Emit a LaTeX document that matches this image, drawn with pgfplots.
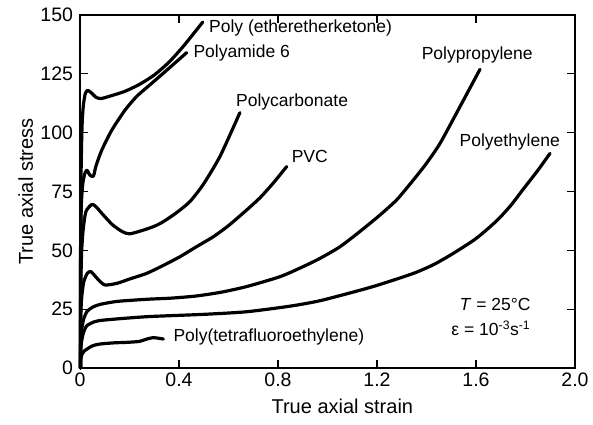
\documentclass[border=0pt]{standalone}
\usepackage{pgfplots}
\pgfplotsset{compat=1.18}
\usepackage{fontspec}
\setmainfont{Liberation Sans}
\begin{document}
\begin{tikzpicture}
\begin{axis}[
  scale only axis, width=495bp, height=353bp,
  xmin=0, xmax=2, ymin=0, ymax=150,
  xtick={0,0.4,0.8,1.2,1.6,2.0},
  xticklabels={0,0.4,0.8,1.2,1.6,2.0},
  ytick={0,25,50,75,100,125,150},
  tick align=inside, major tick length=8bp,
  axis line style={line width=1.2bp, black},
  every tick/.style={line width=1.2bp, black},
  /pgf/number format/assume math mode=true,
  ticklabel style={font=\fontsize{19.5bp}{22bp}\selectfont},
  yticklabel style={xshift=-3.5bp},
  xticklabel style={yshift=-1.5bp},
  xlabel={True axial strain},
  ylabel={True axial stress},
  xlabel style={font=\fontsize{20bp}{22bp}\selectfont, at={(axis description cs:0.53,-0.0776)}, anchor=north},
  ylabel style={font=\fontsize{20bp}{22bp}\selectfont, at={(axis description cs:-0.0877,0.5)}, anchor=south},
  clip=false,
  no markers,
  cycle list={{black}},
  every axis plot post/.append style={black, line width=3.2bp, line join=round, line cap=round, smooth, tension=0.4, mark=none},
]
% Poly(etheretherketone)
\addplot coordinates {(0.002,0) (0.002,40) (0.004,80) (0.008,102) (0.013,111) (0.021,116.5) (0.031,118) (0.045,117) (0.065,115) (0.085,114.5) (0.12,115.5) (0.18,117.5) (0.24,120.5) (0.30,124.5) (0.36,130) (0.42,137) (0.496,147)};
% Polyamide 6
\addplot coordinates {(0.002,0) (0.002,40) (0.005,68) (0.011,78) (0.019,82.5) (0.028,84) (0.04,82) (0.054,81.5) (0.065,86) (0.088,92.6) (0.128,101) (0.182,109.6) (0.23,115.5) (0.29,121) (0.35,126.5) (0.431,134)};
% Polycarbonate
\addplot coordinates {(0.002,0) (0.002,25) (0.006,48) (0.013,59) (0.024,66.5) (0.048,69.5) (0.065,68.5) (0.09,65.5) (0.13,61) (0.17,58) (0.2,57) (0.25,58.4) (0.30,60.2) (0.337,62.2) (0.39,66) (0.444,70.7) (0.498,78) (0.566,90) (0.646,108.5)};
% PVC
\addplot coordinates {(0.002,0) (0.002,18) (0.006,29) (0.015,36.5) (0.03,40.3) (0.045,40.9) (0.07,38) (0.1,35.3) (0.15,36) (0.2,37.8) (0.269,40.2) (0.335,43.5) (0.404,47.3) (0.47,51.5) (0.539,55.8) (0.60,60.5) (0.673,67.1) (0.727,72.3) (0.781,78.6) (0.835,85.6)};
% Polypropylene
\addplot coordinates {(0.002,0) (0.002,9) (0.006,15.5) (0.014,20.5) (0.028,24) (0.05,25.8) (0.08,27) (0.15,28.3) (0.27,29.2) (0.37,29.7) (0.47,30.6) (0.57,32.2) (0.673,34.6) (0.808,38.8) (0.90,43) (0.97,46.6) (1.05,51.5) (1.131,58) (1.212,65) (1.28,71.5) (1.347,79.9) (1.40,87) (1.455,95.5) (1.535,111) (1.616,126.9)};
% Polyethylene
\addplot coordinates {(0.002,0) (0.002,6) (0.006,11) (0.014,15) (0.028,18) (0.06,19.7) (0.1,20.4) (0.27,21.8) (0.5,22.8) (0.673,23.9) (0.85,26.3) (0.97,28.6) (1.13,33) (1.212,35.5) (1.347,40.2) (1.43,44) (1.508,48.7) (1.6,55) (1.683,62.5) (1.74,69) (1.791,76) (1.85,84) (1.899,91.2)};
% Poly(tetrafluoroethylene)
\addplot coordinates {(0.002,0) (0.002,3) (0.007,5.5) (0.018,7.3) (0.05,9.4) (0.081,10.2) (0.14,10.7) (0.19,10.9) (0.24,11.3) (0.27,12.3) (0.296,12.9) (0.32,12.6) (0.337,12.3)};
\begin{scope}[every node/.style={font=\fontsize{17.5bp}{20bp}\selectfont, inner sep=0pt, anchor=west}]
\node at (axis cs:0.521,144.5) {Poly (etheretherketone)};
\node at (axis cs:0.458,133.7) {Polyamide 6};
\node at (axis cs:0.63,113.2) {Polycarbonate};
\node at (axis cs:0.855,89.8) {PVC};
\node at (axis cs:1.38,133) {Polypropylene};
\node at (axis cs:1.533,96.2) {Polyethylene};
\node at (axis cs:0.377,13) {Poly(tetrafluoroethylene)};
\node[anchor=center] at (axis cs:1.677,26.8) {\textit{T} = 25°C};
\node[anchor=center] at (axis cs:1.66,16.9) {ε = 10\textsuperscript{-3}s\textsuperscript{-1}};
\end{scope}
\end{axis}
\path (current axis.south west) ++(-80bp,-57bp) rectangle ++(593bp,425bp);
\end{tikzpicture}
\end{document}
